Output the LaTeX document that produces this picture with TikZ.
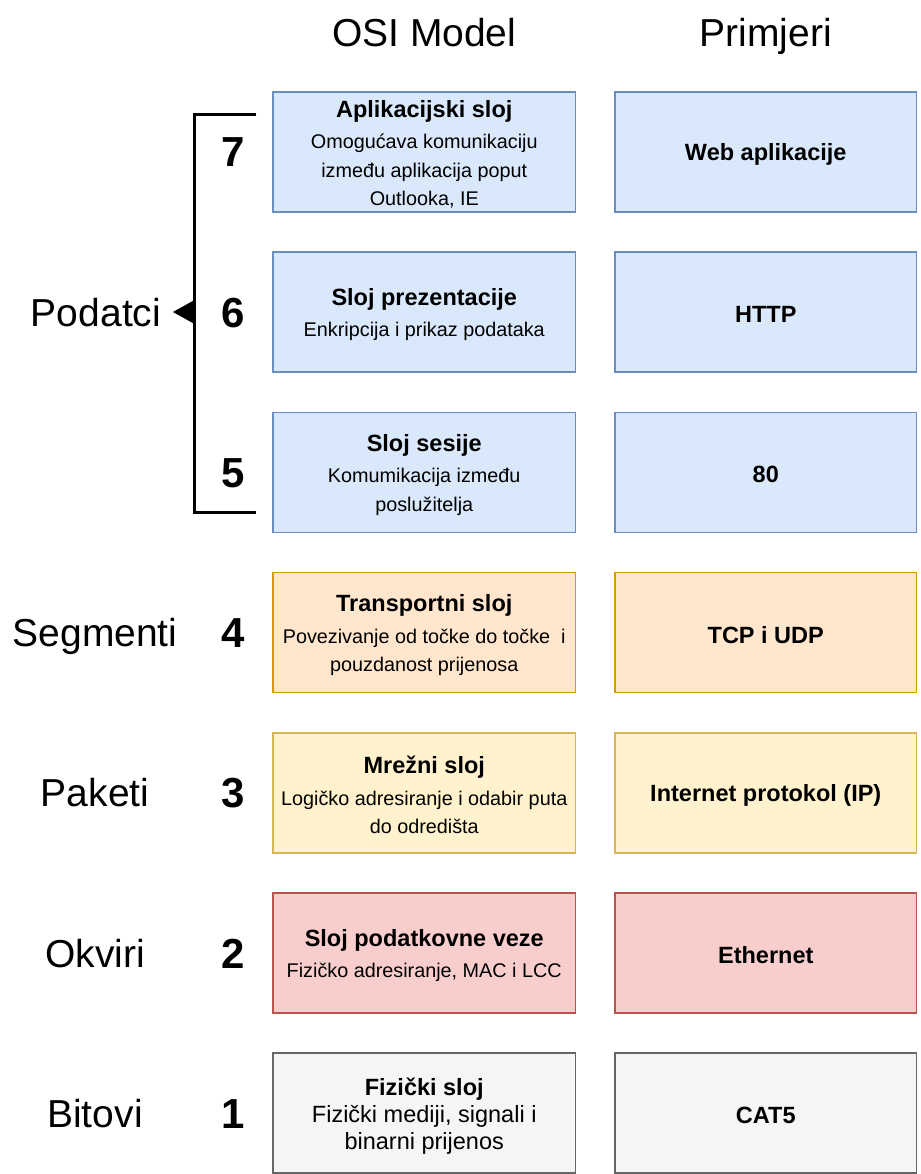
\documentclass[tikz,border=0pt]{standalone}
\usepackage{fontspec}
\setmainfont{Liberation Sans}
\usetikzlibrary{arrows.meta}
\definecolor{blueF}{HTML}{DAE8FC}\definecolor{blueD}{HTML}{6C8EBF}
\definecolor{oranF}{HTML}{FFE6CC}\definecolor{oranD}{HTML}{D79B00}
\definecolor{yelF}{HTML}{FFF2CC}\definecolor{yelD}{HTML}{D6B656}
\definecolor{redF}{HTML}{F8CECC}\definecolor{redD}{HTML}{B85450}
\definecolor{grayF}{HTML}{F5F5F5}\definecolor{grayD}{HTML}{666666}
\newcommand\laytitle[1]{{\fontsize{23.5}{28.5}\selectfont\bfseries #1}}
\begin{document}
\begin{tikzpicture}[x=1pt,y=-1pt,
  layerbox/.style={draw, line width=1.6pt, inner sep=0pt, minimum height=120pt},
  leftbox/.style={layerbox, minimum width=302.5pt},
  rightbox/.style={layerbox, minimum width=301.5pt},
  lefttext/.style={align=center, inner sep=0pt, yshift=-2.5pt, font=\fontsize{19.8}{28.5}\selectfont},
  righttext/.style={align=center, inner sep=0pt, yshift=-2.5pt, font=\fontsize{23.5}{28.5}\selectfont\bfseries},
  bluebox/.style={fill=blueF, draw=blueD},
  orangebox/.style={fill=oranF, draw=oranD},
  yellowbox/.style={fill=yelF, draw=yelD},
  redbox/.style={fill=redF, draw=redD},
  graybox/.style={fill=grayF, draw=grayD},
  numlabel/.style={anchor=base, inner sep=0pt, font=\fontsize{42}{42}\selectfont\bfseries},
  unitlabel/.style={anchor=base, inner sep=0pt, font=\fontsize{39}{39}\selectfont},
  headlabel/.style={anchor=base, inner sep=0pt, font=\fontsize{39}{39}\selectfont},
  bracketline/.style={line width=3pt}
]
\useasboundingbox (0,0) rectangle (920,1174);

% headers
\node[headlabel] (hosi) at (424.25,47) {OSI Model};
\node[headlabel] (hpri) at (765.75,47) {Primjeri};

% left column
\node[leftbox, bluebox] (l7) at (424.25,152) {};
\node[lefttext] (l7t) at (l7.center) {\laytitle{Aplikacijski sloj}\\[3pt]Omogućava komunikaciju\\između aplikacija poput\\Outlooka, IE};
\node[leftbox, bluebox] (l6) at (424.25,312.2) {};
\node[lefttext] (l6t) at (l6.center) {\laytitle{Sloj prezentacije}\\[3pt]Enkripcija i prikaz podataka};
\node[leftbox, bluebox] (l5) at (424.25,472.4) {};
\node[lefttext] (l5t) at (l5.center) {\laytitle{Sloj sesije}\\[3pt]Komumikacija između\\poslužitelja};
\node[leftbox, orangebox] (l4) at (424.25,632.6) {};
\node[lefttext] (l4t) at (l4.center) {\laytitle{Transportni sloj}\\[3pt]Povezivanje od točke do točke \ i\\pouzdanost prijenosa};
\node[leftbox, yellowbox] (l3) at (424.25,792.8) {};
\node[lefttext] (l3t) at (l3.center) {\laytitle{Mrežni sloj}\\[3pt]Logičko adresiranje i odabir puta\\do odredišta};
\node[leftbox, redbox] (l2) at (424.25,953) {};
\node[lefttext] (l2t) at (l2.center) {\laytitle{Sloj podatkovne veze}\\[3pt]Fizičko adresiranje, MAC i LCC};
\node[leftbox, graybox] (l1) at (424.25,1113.2) {};
\node[lefttext, font=\fontsize{23.5}{27}\selectfont] (l1t) at (l1.center) {\laytitle{Fizički sloj}\\Fizički mediji, signali i\\binarni prijenos};

% right column
\node[rightbox, bluebox] (r7) at (765.75,152) {};
\node[righttext] (r7t) at (r7.center) {Web aplikacije};
\node[rightbox, bluebox] (r6) at (765.75,312.2) {};
\node[righttext] (r6t) at (r6.center) {HTTP};
\node[rightbox, bluebox] (r5) at (765.75,472.4) {};
\node[righttext] (r5t) at (r5.center) {80};
\node[rightbox, orangebox] (r4) at (765.75,632.6) {};
\node[righttext] (r4t) at (r4.center) {TCP i UDP};
\node[rightbox, yellowbox] (r3) at (765.75,792.8) {};
\node[righttext] (r3t) at (r3.center) {Internet protokol (IP)};
\node[rightbox, redbox] (r2) at (765.75,953) {};
\node[righttext] (r2t) at (r2.center) {Ethernet};
\node[rightbox, graybox] (r1) at (765.75,1113.2) {};
\node[righttext] (r1t) at (r1.center) {CAT5};

% layer numbers
\node[numlabel] (n7) at (233,167) {7};
\node[numlabel] (n6) at (233,327.2) {6};
\node[numlabel] (n5) at (233,487.4) {5};
\node[numlabel] (n4) at (233,647.6) {4};
\node[numlabel] (n3) at (233,807.8) {3};
\node[numlabel] (n2) at (233,968) {2};
\node[numlabel] (n1) at (233,1128.2) {1};

% data units
\node[unitlabel] (u7) at (96,326) {Podatci};
\node[unitlabel] (u4) at (95,646.6) {Segmenti};
\node[unitlabel] (u3) at (95,806.8) {Paketi};
\node[unitlabel] (u2) at (95,967) {Okviri};
\node[unitlabel] (u1) at (95,1127.2) {Bitovi};

% bracket
\coordinate (btr) at (256,114.7);
\coordinate (btl) at (194.5,114.7);
\coordinate (bbl) at (194.5,512.3);
\coordinate (bbr) at (256,512.3);
\coordinate (bmid) at (194.5,312);
\coordinate (btip) at (173,312);
\draw[bracketline] (btr) -- (btl) -- (bbl) -- (bbr);
\fill (bmid) ++(0,-12) -- (btip) -- (194.5,324) -- cycle;
\end{tikzpicture}
\end{document}
